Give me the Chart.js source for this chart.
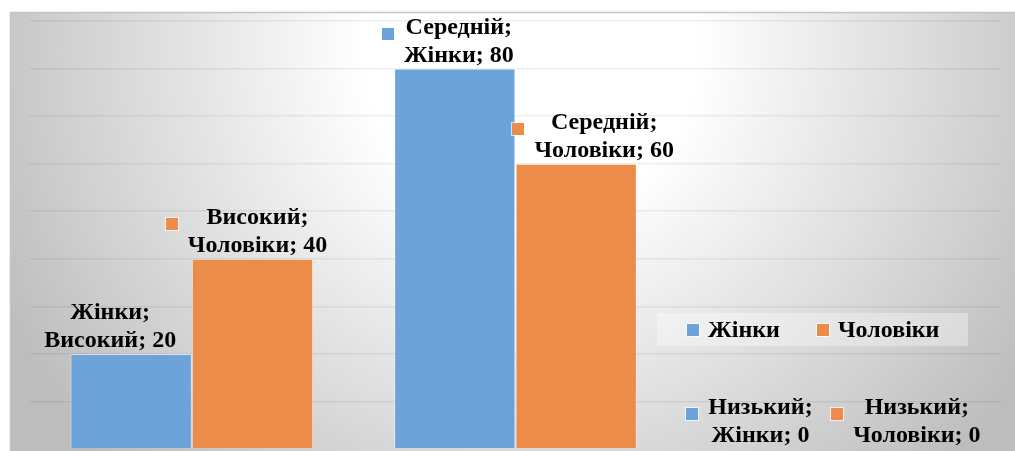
<!DOCTYPE html>
<html>
<head>
<meta charset="utf-8">
<script src="https://cdn.jsdelivr.net/npm/chart.js@4.4.1/dist/chart.umd.min.js"></script>
<style>
  html, body { margin: 0; padding: 0; background: #ffffff; }
  #wrap { position: relative; width: 1015px; height: 451px; }
</style>
</head>
<body>
<div id="wrap"><canvas id="c" width="1015" height="451"></canvas></div>
<script>
// ---- data ----
const categories = ['Високий', 'Середній', 'Низький'];
const seriesNames = ['Жінки', 'Чоловіки'];
const womenValues = [20, 80, 0];
const menValues = [40, 60, 0];
const yTicksMax = 90;
const yTickStep = 10;
// label text order: true => "Series; Category; value"
const seriesFirstWomen = [true, false, false];
const seriesFirstMen = [false, false, false];
const markerWomen = [false, true, true];
const markerMen = [true, true, true];

// ---- styles ----
const colors = ['#6ca4d9', '#ec8c4b'];
const labelDx = [[-21, 4, -18], [5, 28, 17]];
const FONT = 'bold 24px "Liberation Serif", "Times New Roman", serif';
const LINE_H = 28;

const bgPlugin = {
  id: 'bg',
  beforeDraw(chart) {
    const ctx = chart.ctx;
    ctx.save();
    ctx.fillStyle = '#ffffff';
    ctx.fillRect(0, 0, chart.width, chart.height);
    const x0 = 10, y0 = 12, x1 = chart.width, y1 = chart.height;
    const g = ctx.createRadialGradient(530, 50, 0, 530, 50, 590);
    g.addColorStop(0, '#ffffff');
    g.addColorStop(0.28, '#ffffff');
    g.addColorStop(1, '#bdbdbd');
    ctx.fillStyle = g;
    ctx.fillRect(x0, y0, x1 - x0, y1 - y0);
    ctx.strokeStyle = '#c4c4c4';
    ctx.lineWidth = 1.5;
    ctx.beginPath();
    ctx.moveTo(x0 + 0.5, y1);
    ctx.lineTo(x0 + 0.5, y0 + 0.5);
    ctx.lineTo(x1, y0 + 0.5);
    ctx.stroke();
    ctx.restore();
  }
};

const labelPlugin = {
  id: 'labels',
  afterDatasetsDraw(chart) {
    const ctx = chart.ctx;
    ctx.save();
    ctx.font = FONT;
    ctx.textBaseline = 'alphabetic';
    ctx.textAlign = 'center';
    chart.data.datasets.forEach((ds, di) => {
      const meta = chart.getDatasetMeta(di);
      meta.data.forEach((bar, j) => {
        const cat = chart.data.labels[j];
        const sf = ds.seriesFirst[j];
        const l1 = (sf ? ds.label : cat) + ';';
        const l2 = (sf ? cat : ds.label) + '; ' + ds.data[j];
        const cx = bar.x + labelDx[di][j];
        const b2 = bar.y - 7;
        const b1 = b2 - LINE_H;
        ctx.fillStyle = '#000000';
        ctx.fillText(l1, cx, b1);
        ctx.fillText(l2, cx, b2);
        if (ds.marker[j]) {
          const w = Math.max(ctx.measureText(l1).width, ctx.measureText(l2).width);
          const mx = Math.round(cx - w / 2 - 23);
          const my = Math.round(b1 - 7);
          ctx.fillStyle = 'rgba(255,255,255,0.7)';
          ctx.fillRect(mx, my, 14, 14);
          ctx.fillStyle = ds.backgroundColor;
          ctx.fillRect(mx + 1, my + 1, 12, 12);
        }
      });
    });
    ctx.restore();
  }
};

const legendPlugin = {
  id: 'customLegend',
  afterDraw(chart) {
    const ctx = chart.ctx;
    ctx.save();
    ctx.fillStyle = 'rgba(255,255,255,0.35)';
    ctx.fillRect(657, 313, 311, 33);
    ctx.font = FONT;
    ctx.textAlign = 'left';
    ctx.textBaseline = 'alphabetic';
    const xs = [686, 816];
    chart.data.datasets.forEach((ds, i) => {
      ctx.fillStyle = 'rgba(255,255,255,0.7)';
      ctx.fillRect(xs[i], 323, 14, 14);
      ctx.fillStyle = ds.backgroundColor;
      ctx.fillRect(xs[i] + 1, 324, 12, 12);
      ctx.fillStyle = '#000000';
      ctx.fillText(ds.label, xs[i] + 22, 337);
    });
    ctx.restore();
  }
};

new Chart(document.getElementById('c'), {
  type: 'bar',
  data: {
    labels: categories,
    datasets: [
      { label: seriesNames[0], data: womenValues, backgroundColor: colors[0],
        borderColor: 'rgba(255,255,255,0.45)', borderWidth: 1,
        seriesFirst: seriesFirstWomen, marker: markerWomen },
      { label: seriesNames[1], data: menValues, backgroundColor: colors[1],
        borderColor: 'rgba(255,255,255,0.45)', borderWidth: 1,
        seriesFirst: seriesFirstMen, marker: markerMen }
    ]
  },
  options: {
    responsive: false,
    animation: false,
    devicePixelRatio: 1,
    layout: { padding: { left: 30, right: 14, top: 21, bottom: 2 } },
    datasets: { bar: { categoryPercentage: 0.75, barPercentage: 1.0 } },
    plugins: { legend: { display: false }, tooltip: { enabled: false } },
    scales: {
      x: { display: false, grid: { display: false } },
      y: {
        display: true, min: 0, max: yTicksMax,
        ticks: { display: false, stepSize: yTickStep },
        grid: {
          color: (c) => (c.tick && c.tick.value === 0) ? 'rgba(0,0,0,0)' : 'rgba(0,0,0,0.065)',
          lineWidth: 1.5, drawTicks: false
        },
        border: { display: false }
      }
    }
  },
  plugins: [bgPlugin, labelPlugin, legendPlugin]
});
</script>
</body>
</html>
